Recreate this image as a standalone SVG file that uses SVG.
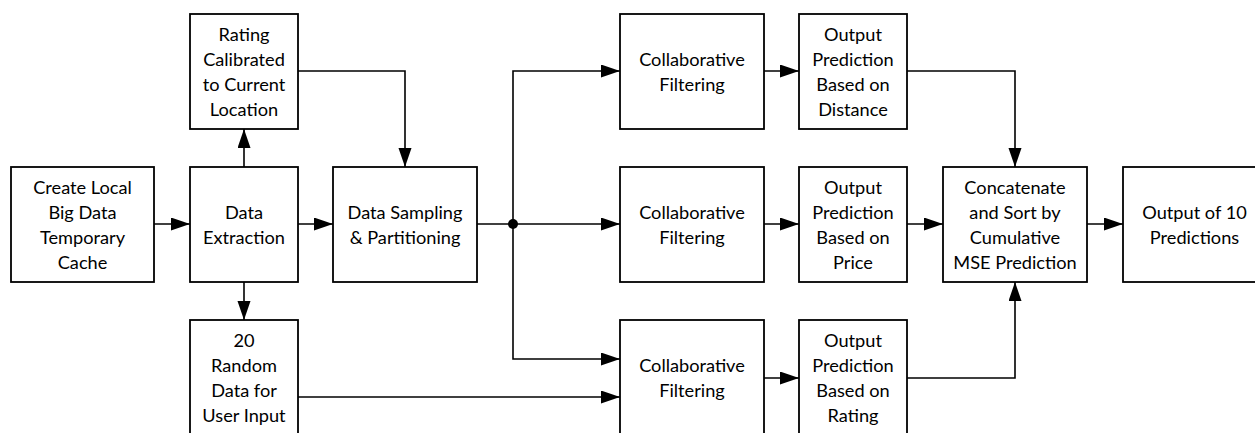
<svg xmlns="http://www.w3.org/2000/svg" width="1255" height="433" viewBox="0 0 1255 433">
<style>
.box{fill:#fff;stroke:#000;stroke-width:1.8}
.t{font-family:Lato,"Liberation Sans",sans-serif;font-size:18.2px;fill:#000;text-anchor:middle}
.c{fill:none;stroke:#000;stroke-width:1.6}
</style>
<defs>
<marker id="arr" markerUnits="userSpaceOnUse" markerWidth="20" markerHeight="14" refX="19" refY="6.5" orient="auto">
<path d="M0,0 L19,6.5 L0,13 z" fill="#000"/>
</marker>
</defs>
<rect width="1255" height="433" fill="#fff"/>
<g id="connectors">
<path class="c" d="M154,224 H190" marker-end="url(#arr)"/>
<path class="c" d="M244,167 V129" marker-end="url(#arr)"/>
<path class="c" d="M244,282 V320" marker-end="url(#arr)"/>
<path class="c" d="M298,71 H405 V167" marker-end="url(#arr)"/>
<path class="c" d="M298,224 H333" marker-end="url(#arr)"/>
<path class="c" d="M477,224 H513"/>
<path class="c" d="M513,224 V71 H620" marker-end="url(#arr)"/>
<path class="c" d="M513,224 H620" marker-end="url(#arr)"/>
<path class="c" d="M513,224 V359 H620" marker-end="url(#arr)"/>
<circle cx="513" cy="224" r="5" fill="#000"/>
<path class="c" d="M298,397 H620" marker-end="url(#arr)"/>
<path class="c" d="M764,71 H799" marker-end="url(#arr)"/>
<path class="c" d="M764,224 H799" marker-end="url(#arr)"/>
<path class="c" d="M764,378 H799" marker-end="url(#arr)"/>
<path class="c" d="M907,71 H1015 V167" marker-end="url(#arr)"/>
<path class="c" d="M907,224 H943" marker-end="url(#arr)"/>
<path class="c" d="M907,378 H1015 V282" marker-end="url(#arr)"/>
<path class="c" d="M1087,224 H1123" marker-end="url(#arr)"/>
</g>
<g id="create-cache">
<rect class="box" x="11" y="167" width="143" height="115"/>
<text class="t" x="82.5" y="194">Create Local</text>
<text class="t" x="82.5" y="219">Big Data</text>
<text class="t" x="82.5" y="244">Temporary</text>
<text class="t" x="82.5" y="269">Cache</text>
</g>
<g id="rating-calibrated">
<rect class="box" x="190" y="14" width="108" height="115"/>
<text class="t" x="244" y="41">Rating</text>
<text class="t" x="244" y="66">Calibrated</text>
<text class="t" x="244" y="91">to Current</text>
<text class="t" x="244" y="116">Location</text>
</g>
<g id="data-extraction">
<rect class="box" x="190" y="167" width="108" height="115"/>
<text class="t" x="244" y="219">Data</text>
<text class="t" x="244" y="244">Extraction</text>
</g>
<g id="random-data">
<rect class="box" x="190" y="320" width="108" height="115"/>
<text class="t" x="244" y="347">20</text>
<text class="t" x="244" y="372">Random</text>
<text class="t" x="244" y="397">Data for</text>
<text class="t" x="244" y="422">User Input</text>
</g>
<g id="data-sampling">
<rect class="box" x="333" y="167" width="144" height="115"/>
<text class="t" x="405" y="219">Data Sampling</text>
<text class="t" x="405" y="244">&amp; Partitioning</text>
</g>
<g id="cf-top">
<rect class="box" x="620" y="14" width="144" height="115"/>
<text class="t" x="692" y="66">Collaborative</text>
<text class="t" x="692" y="91">Filtering</text>
</g>
<g id="cf-mid">
<rect class="box" x="620" y="167" width="144" height="115"/>
<text class="t" x="692" y="219">Collaborative</text>
<text class="t" x="692" y="244">Filtering</text>
</g>
<g id="cf-bottom">
<rect class="box" x="620" y="320" width="144" height="115"/>
<text class="t" x="692" y="372">Collaborative</text>
<text class="t" x="692" y="397">Filtering</text>
</g>
<g id="out-distance">
<rect class="box" x="799" y="14" width="108" height="115"/>
<text class="t" x="853" y="41">Output</text>
<text class="t" x="853" y="66">Prediction</text>
<text class="t" x="853" y="91">Based on</text>
<text class="t" x="853" y="116">Distance</text>
</g>
<g id="out-price">
<rect class="box" x="799" y="167" width="108" height="115"/>
<text class="t" x="853" y="194">Output</text>
<text class="t" x="853" y="219">Prediction</text>
<text class="t" x="853" y="244">Based on</text>
<text class="t" x="853" y="269">Price</text>
</g>
<g id="out-rating">
<rect class="box" x="799" y="320" width="108" height="115"/>
<text class="t" x="853" y="347">Output</text>
<text class="t" x="853" y="372">Prediction</text>
<text class="t" x="853" y="397">Based on</text>
<text class="t" x="853" y="422">Rating</text>
</g>
<g id="concatenate">
<rect class="box" x="943" y="167" width="144" height="115"/>
<text class="t" x="1015" y="194">Concatenate</text>
<text class="t" x="1015" y="219">and Sort by</text>
<text class="t" x="1015" y="244">Cumulative</text>
<text class="t" x="1015" y="269">MSE Prediction</text>
</g>
<g id="output-10">
<rect class="box" x="1123" y="167" width="143" height="115"/>
<text class="t" x="1194.5" y="219">Output of 10</text>
<text class="t" x="1194.5" y="244">Predictions</text>
</g>
</svg>
